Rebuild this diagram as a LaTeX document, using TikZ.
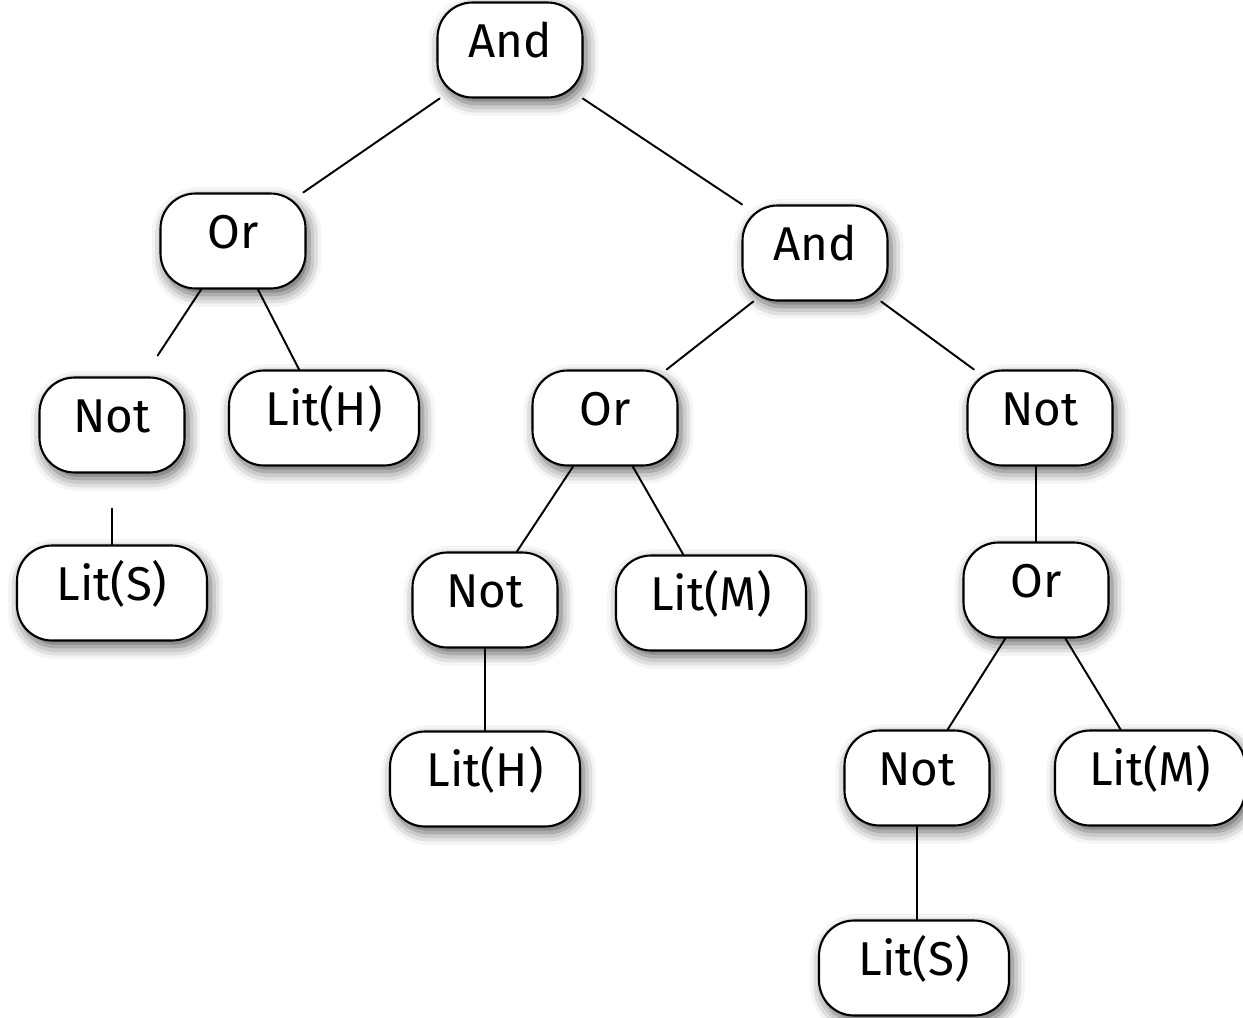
\documentclass[tikz,border=0pt]{standalone}
\usepackage{fontspec}
\setmainfont{Fira Sans}
\usetikzlibrary{shadows.blur}
\tikzset{
	tnode/.style={draw, line width=1.2pt, fill=white, rounded corners=.7cm,
		text height=1.1cm, text depth=.8cm, inner ysep=0pt, inner xsep=0pt,
		font=\fontsize{27}{30}\selectfont,
		blur shadow={shadow xshift=.07cm, shadow yshift=-.12cm, shadow blur radius=.25cm, shadow opacity=65}},
	opnode/.style={tnode, minimum width=2.9cm},
	litnode/.style={tnode, minimum width=3.8cm},
	edge/.style={line width=1.1pt},
}
\begin{document}
\begin{tikzpicture}[x=.02cm, y=-.02cm, line join=round, line cap=round]
	\useasboundingbox (0,0) rectangle (1243,1017);
	% nodes
	\node[opnode] (and1) at(510,50){And};
	\node[opnode] (or1) at(233,241){Or};
	\node[opnode] (and2) at(815,253){And};
	\node[opnode] (not1) at(112,425){Not};
	\node[litnode] (litH1) at(324,418){Lit(H)};
	\node[opnode] (or2) at(605,418){Or};
	\node[opnode] (not2) at(1040,418){Not};
	\node[litnode] (litS1) at(112,593){Lit(S)};
	\node[opnode] (not3) at(485,600){Not};
	\node[litnode] (litM1) at(711,603){Lit(M)};
	\node[opnode] (or3) at(1036,590){Or};
	\node[litnode] (litH2) at(485,779){Lit(H)};
	\node[opnode] (not4) at(917,778){Not};
	\node[litnode] (litM2) at(1150,778){Lit(M)};
	\node[litnode] (litS2) at(914,968){Lit(S)};
	% edges
	\draw[edge] (and1)--(or1) (and1)--(and2)
	(or1)--(litH1)
	(and2)--(or2) (and2)--(not2)
	(or2)--(not3) (or2)--(litM1)
	(not3)--(litH2)
	(or3.north |- not2.south)--(or3.north)
	(or3)--(not4) (or3)--(litM2)
	(not4.south)--(not4.south |- litS2.north)
	;
	\draw[edge, shorten >=.5cm] (or1)--(not1);
	\draw[edge, shorten <=.7cm] (not1)--(litS1);
\end{tikzpicture}
\end{document}
